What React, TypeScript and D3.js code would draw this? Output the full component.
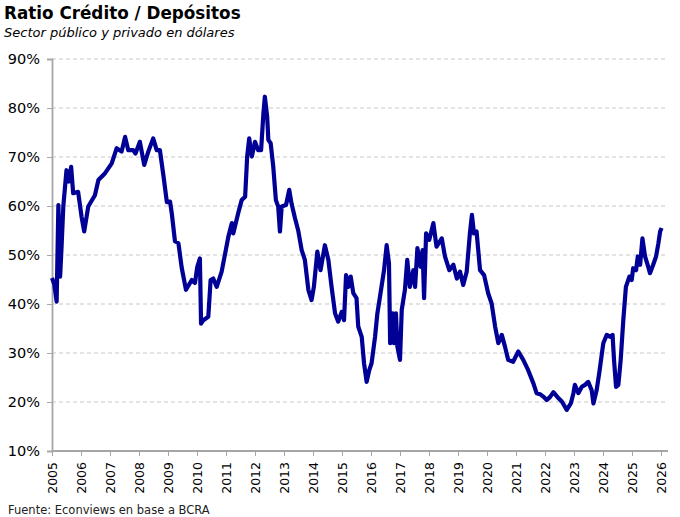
import * as d3 from "d3";
import React, { useEffect, useRef } from "react";

// time as decimal year, ratio in percent
const T = [
  2005.0, 2005.08, 2005.16, 2005.22, 2005.28, 2005.33, 2005.39, 2005.5, 2005.58, 2005.66, 2005.73, 2005.9,
  2006.02, 2006.11, 2006.25, 2006.48, 2006.6, 2006.83, 2007.06, 2007.23, 2007.4, 2007.52, 2007.63, 2007.8,
  2007.88, 2008.03, 2008.18, 2008.32, 2008.49, 2008.61, 2008.72, 2008.84, 2008.96, 2009.07, 2009.13, 2009.24,
  2009.36, 2009.47, 2009.62, 2009.82, 2009.93, 2010.01, 2010.1, 2010.14, 2010.22, 2010.39, 2010.47, 2010.56,
  2010.68, 2010.85, 2010.97, 2011.08, 2011.2, 2011.25, 2011.42, 2011.54, 2011.66, 2011.73, 2011.8, 2011.89,
  2012.0, 2012.11, 2012.21, 2012.29, 2012.34, 2012.42, 2012.46, 2012.54, 2012.63, 2012.72, 2012.8, 2012.86,
  2012.92, 2013.07, 2013.18, 2013.26, 2013.38, 2013.49, 2013.61, 2013.72, 2013.84, 2013.95, 2014.03, 2014.15,
  2014.26, 2014.41, 2014.53, 2014.64, 2014.76, 2014.87, 2014.99, 2015.07, 2015.14, 2015.22, 2015.3, 2015.39,
  2015.5, 2015.56, 2015.68, 2015.76, 2015.85, 2015.94, 2016.02, 2016.14, 2016.22, 2016.31, 2016.45, 2016.54,
  2016.62, 2016.66, 2016.75, 2016.79, 2016.86, 2016.91, 2017.0, 2017.06, 2017.17, 2017.25, 2017.34, 2017.46,
  2017.52, 2017.6, 2017.71, 2017.78, 2017.83, 2017.9, 2018.01, 2018.15, 2018.26, 2018.44, 2018.55, 2018.7,
  2018.84, 2018.96, 2019.07, 2019.18, 2019.3, 2019.41, 2019.48, 2019.55, 2019.64, 2019.76, 2019.9, 2020.04,
  2020.16, 2020.28, 2020.39, 2020.51, 2020.62, 2020.73, 2020.9, 2021.08, 2021.25, 2021.42, 2021.6, 2021.71,
  2021.83, 2021.94, 2022.06, 2022.17, 2022.29, 2022.46, 2022.58, 2022.75, 2022.89, 2022.98, 2023.03, 2023.15,
  2023.27, 2023.38, 2023.49, 2023.61, 2023.67, 2023.78, 2023.87, 2024.01, 2024.13, 2024.24, 2024.33, 2024.38,
  2024.45, 2024.53, 2024.61, 2024.7, 2024.79, 2024.91, 2024.99, 2025.04, 2025.14, 2025.2, 2025.28, 2025.36,
  2025.45, 2025.56, 2025.62, 2025.73, 2025.83, 2025.91, 2025.97, 2026.02,
];
const RATIO = [
  45.3, 44.0, 40.5, 60.2, 45.6, 51.7, 59.9, 67.3, 65.0, 68.0, 62.6, 62.9,
  57.8, 54.8, 59.9, 62.2, 65.3, 66.7, 68.7, 71.8, 71.1, 74.1, 71.4, 71.4,
  70.7, 73.1, 68.4, 71.1, 73.8, 71.4, 71.4, 66.3, 60.8, 60.9, 58.5, 52.8,
  52.4, 47.5, 42.9, 44.9, 44.3, 47.6, 49.3, 36.0, 36.7, 37.4, 44.9, 45.2,
  43.5, 46.6, 50.3, 53.7, 56.5, 54.4, 58.5, 61.2, 61.9, 70.1, 73.8, 70.1,
  73.1, 71.4, 71.4, 78.9, 82.3, 78.2, 73.5, 72.8, 68.0, 61.2, 59.9, 54.8,
  59.9, 60.2, 63.3, 60.5, 57.5, 55.0, 51.0, 49.0, 42.9, 40.8, 43.5, 50.7,
  46.9, 52.0, 49.0, 43.5, 38.1, 36.4, 38.4, 36.7, 45.9, 43.5, 45.6, 42.2,
  41.2, 35.4, 33.3, 27.9, 24.1, 26.5, 27.9, 33.3, 38.1, 41.5, 46.9, 52.0,
  48.3, 32.0, 38.1, 32.0, 38.1, 31.3, 28.6, 38.8, 42.9, 49.0, 43.5, 46.9,
  43.5, 51.4, 47.6, 51.0, 41.2, 54.4, 53.1, 56.5, 51.7, 53.4, 49.7, 46.9,
  48.0, 45.2, 46.6, 43.9, 46.6, 54.4, 58.2, 54.4, 54.8, 46.9, 45.9, 42.2,
  40.1, 35.4, 32.0, 33.7, 31.3, 28.6, 28.2, 30.3, 28.6, 26.5, 23.8, 21.8,
  21.6, 21.1, 20.4, 21.0, 22.0, 20.8, 20.1, 18.4, 19.7, 21.8, 23.5, 21.8,
  23.1, 23.5, 24.1, 22.4, 19.7, 22.4, 25.9, 32.0, 33.7, 33.3, 33.7, 28.6,
  23.1, 23.5, 28.6, 36.7, 43.5, 45.6, 44.9, 47.3, 46.9, 49.7, 48.0, 53.4,
  49.7, 47.6, 46.3, 48.0, 49.7, 52.4, 54.8, 55.5,
];
const YEARS = d3.range(2005, 2027);
const Y_TICKS = [10, 20, 30, 40, 50, 60, 70, 80, 90];

const TITLE = "Ratio Crédito / Depósitos";
const SUBTITLE = "Sector público y privado en dólares";
const SOURCE = "Fuente: Econviews en base a BCRA";

const W = 680, H = 517;
const FONT = "'DejaVu Sans', Verdana, sans-serif";

export default function App() {
  const ref = useRef<SVGSVGElement>(null);

  useEffect(() => {
    const svg = d3.select(ref.current);
    svg.selectAll("*").remove();

    const left = 52, right = 668, top = 59, bottom = 451;
    const x = d3.scaleLinear().domain([2005, 2026]).range([left, 661]);
    const y = d3.scaleLinear().domain([10, 90]).range([bottom, top]);

    // gridlines
    svg.append("g")
      .selectAll("line")
      .data(Y_TICKS.slice(1))
      .join("line")
      .attr("x1", left).attr("x2", right)
      .attr("y1", d => y(d)).attr("y2", d => y(d))
      .attr("stroke", "#c8c8c8")
      .attr("stroke-dasharray", "4,3")
      .attr("stroke-width", 1);

    // y axis
    const ya = svg.append("g").attr("transform", `translate(${left},0)`)
      .call(d3.axisLeft(y).tickValues(Y_TICKS).tickSize(5).tickPadding(7).tickFormat(d => `${d}%`));
    ya.select(".domain").attr("stroke", "#a6a6a6").attr("stroke-width", 1.8);
    ya.selectAll(".tick line").attr("stroke", "#a6a6a6");
    ya.selectAll(".tick text").attr("font-family", FONT).attr("font-size", 14.5).attr("fill", "#000");

    // x axis
    const xa = svg.append("g").attr("transform", `translate(0,${bottom})`)
      .call(d3.axisBottom(x).tickValues(YEARS).tickSize(5).tickSizeOuter(0).tickFormat(d3.format("d")));
    xa.select(".domain").attr("stroke", "#a6a6a6").attr("stroke-width", 1.8).attr("d", `M${left},0H${right}`);
    xa.selectAll(".tick line").attr("stroke", "#a6a6a6");
    xa.selectAll(".tick text")
      .attr("font-family", FONT).attr("font-size", 12.5).attr("fill", "#000")
      .attr("transform", "rotate(-90)")
      .attr("text-anchor", "end")
      .attr("x", -11).attr("y", 0).attr("dy", "0.36em");

    // series
    const data = T.map((t, i) => [t, RATIO[i]] as [number, number]);
    svg.append("path")
      .datum(data)
      .attr("fill", "none")
      .attr("stroke", "#000096")
      .attr("stroke-width", 4.2)
      .attr("stroke-linejoin", "round")
      .attr("d", d3.line<[number, number]>().x(d => x(d[0])).y(d => y(d[1])));

    // texts
    svg.append("text").attr("x", 4).attr("y", 19)
      .attr("font-family", FONT).attr("font-weight", "bold").attr("font-size", 16.8)
      .text(TITLE);
    svg.append("text").attr("x", 4).attr("y", 37)
      .attr("font-family", FONT).attr("font-style", "italic").attr("font-size", 13)
      .text(SUBTITLE);
    svg.append("text").attr("x", 8).attr("y", 514)
      .attr("font-family", FONT).attr("font-size", 11.5).attr("fill", "#222")
      .text(SOURCE);
  }, []);

  return (
    <svg ref={ref} width={W} height={H}
      style={{ position: "absolute", left: 0, top: 0, background: "#fff" }} />
  );
}
